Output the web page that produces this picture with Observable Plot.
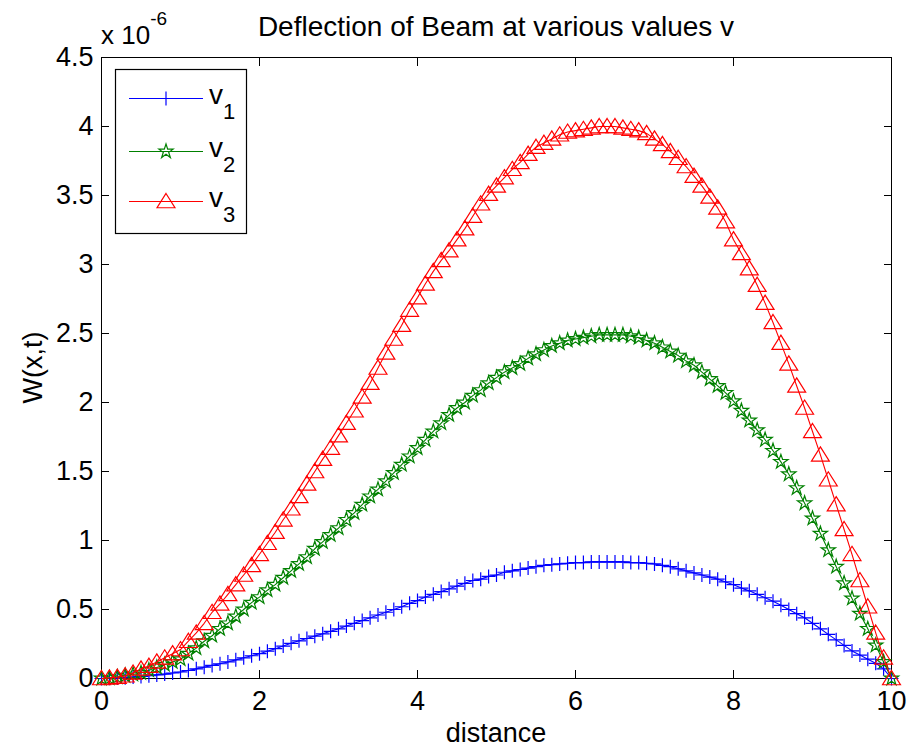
<!DOCTYPE html>
<html>
<head>
<meta charset="utf-8">
<script src="https://cdn.jsdelivr.net/npm/d3@7"></script>
<script src="https://cdn.jsdelivr.net/npm/@observablehq/plot@0.6"></script>
<style>
  html, body { margin: 0; padding: 0; background: #fff; }
  #chart { width: 908px; height: 750px; }
</style>
</head>
<body>
<div id="chart"></div>
<script>
// ---- data (W in units of 1e-6) ----
const distance = [0,0.1,0.2,0.3,0.4,0.5,0.6,0.7,0.8,0.9,1,1.1,1.2,1.3,1.4,1.5,1.6,1.7,1.8,1.9,2,2.1,2.2,2.3,2.4,2.5,2.6,2.7,2.8,2.9,3,3.1,3.2,3.3,3.4,3.5,3.6,3.7,3.8,3.9,4,4.1,4.2,4.3,4.4,4.5,4.6,4.7,4.8,4.9,5,5.1,5.2,5.3,5.4,5.5,5.6,5.7,5.8,5.9,6,6.1,6.2,6.3,6.4,6.5,6.6,6.7,6.8,6.9,7,7.1,7.2,7.3,7.4,7.5,7.6,7.7,7.8,7.9,8,8.1,8.2,8.3,8.4,8.5,8.6,8.7,8.8,8.9,9,9.1,9.2,9.3,9.4,9.5,9.6,9.7,9.8,9.9,10];

const v1 = [0,0.001,0.003,0.006,0.01,0.015,0.02,0.026,0.032,0.04,0.047,0.058,0.07,0.082,0.095,0.107,0.12,0.135,0.15,0.165,0.18,0.198,0.216,0.235,0.255,0.273,0.29,0.307,0.324,0.342,0.36,0.38,0.40,0.42,0.44,0.46,0.48,0.50,0.52,0.545,0.565,0.59,0.61,0.63,0.65,0.67,0.69,0.71,0.72,0.74,0.75,0.77,0.78,0.79,0.80,0.81,0.82,0.825,0.83,0.835,0.84,0.84,0.845,0.845,0.845,0.845,0.845,0.84,0.84,0.835,0.83,0.82,0.81,0.795,0.78,0.765,0.75,0.735,0.72,0.70,0.68,0.655,0.635,0.61,0.585,0.56,0.53,0.50,0.47,0.44,0.40,0.36,0.32,0.28,0.24,0.20,0.17,0.14,0.11,0.07,0];

const v2 = [0,0.003,0.01,0.02,0.03,0.04,0.06,0.08,0.10,0.12,0.14,0.18,0.22,0.27,0.31,0.36,0.40,0.45,0.50,0.55,0.59,0.64,0.68,0.73,0.78,0.83,0.88,0.94,0.99,1.04,1.09,1.15,1.20,1.26,1.32,1.37,1.43,1.49,1.55,1.61,1.67,1.73,1.79,1.85,1.91,1.96,2.00,2.05,2.09,2.14,2.18,2.22,2.25,2.28,2.32,2.35,2.38,2.41,2.43,2.45,2.46,2.47,2.48,2.49,2.49,2.49,2.49,2.48,2.47,2.45,2.43,2.40,2.37,2.34,2.30,2.27,2.22,2.17,2.12,2.07,2.01,1.94,1.87,1.80,1.73,1.65,1.57,1.48,1.38,1.27,1.16,1.05,0.93,0.81,0.69,0.58,0.47,0.36,0.24,0.12,0];

const v3 = [0,0.005,0.01,0.02,0.04,0.07,0.09,0.12,0.15,0.18,0.21,0.27,0.33,0.40,0.48,0.54,0.61,0.68,0.75,0.82,0.90,0.98,1.06,1.15,1.23,1.32,1.41,1.50,1.59,1.67,1.76,1.85,1.94,2.04,2.14,2.25,2.36,2.46,2.56,2.67,2.76,2.86,2.95,3.03,3.10,3.18,3.26,3.35,3.44,3.51,3.57,3.63,3.69,3.74,3.80,3.85,3.88,3.91,3.94,3.96,3.97,3.98,3.99,4.00,4.00,4.00,3.99,3.98,3.97,3.95,3.91,3.87,3.82,3.77,3.71,3.64,3.57,3.49,3.41,3.31,3.18,3.08,2.97,2.85,2.72,2.58,2.43,2.28,2.12,1.96,1.79,1.62,1.44,1.26,1.08,0.90,0.71,0.52,0.33,0.15,0];

const seriesNames = ["v1", "v2", "v3"];
const seriesSub = ["1", "2", "3"];
const seriesColors = ["#0000ff", "#008000", "#ff0000"];
const xTicks = [0, 2, 4, 6, 8, 10];
const yTicks = [0, 0.5, 1, 1.5, 2, 2.5, 3, 3.5, 4, 4.5];
const titleText = "Deflection of Beam at various values v";
const xLabel = "distance";
const yLabel = "W(x,t)";

// ---- marker symbols (MATLAB-like) ----
const plusSym = { draw(ctx, size) { const r = Math.sqrt(size / Math.PI);
  ctx.moveTo(-r, 0); ctx.lineTo(r, 0); ctx.moveTo(0, -r); ctx.lineTo(0, r); } };
const starSym = { draw(ctx, size) { const R = Math.sqrt(size / Math.PI), ri = R * 0.382;
  for (let i = 0; i < 10; i++) { const a = -Math.PI / 2 + i * Math.PI / 5, rr = i % 2 ? ri : R;
    const px = rr * Math.cos(a), py = rr * Math.sin(a); i ? ctx.lineTo(px, py) : ctx.moveTo(px, py); }
  ctx.closePath(); } };
const triSym = { draw(ctx, size) { const r = Math.sqrt(size / Math.PI);
  ctx.moveTo(0, -r); ctx.lineTo(r * 1.12, r * 0.78); ctx.lineTo(-r * 1.12, r * 0.78); ctx.closePath(); } };
const symbols = [plusSym, starSym, triSym];
const symR = [7, 7.5, 8];

const seriesValues = [v1, v2, v3];
const tables = seriesValues.map(vals => distance.map((x, i) => ({x, y: vals[i]})));

const FONT = "'Liberation Sans', Arial, Helvetica, sans-serif";

const marks = [
  Plot.frame({stroke: "black", strokeWidth: 1}),
  Plot.axisX({anchor: "bottom", ticks: xTicks, tickSize: 0, tickPadding: 12, tickFormat: d => String(d), fontSize: 27, fill: "black"}),
  Plot.axisX({anchor: "bottom", ticks: xTicks, tickSize: -8, tickFormat: () => "", stroke: "black"}),
  Plot.axisX({anchor: "top", ticks: xTicks, tickSize: -8, tickFormat: () => "", stroke: "black"}),
  Plot.axisY({anchor: "left", ticks: yTicks, tickSize: 0, tickPadding: 8, tickFormat: d => String(d), fontSize: 27, fill: "black"}),
  Plot.axisY({anchor: "left", ticks: yTicks, tickSize: -8, tickFormat: () => "", stroke: "black"}),
  Plot.axisY({anchor: "right", ticks: yTicks, tickSize: -8, tickFormat: () => "", stroke: "black"})
];
tables.forEach((t, k) => {
  marks.push(Plot.line(t, {x: "x", y: "y", stroke: seriesColors[k], strokeWidth: 1.1}));
  marks.push(Plot.dot(t, {x: "x", y: "y", symbol: symbols[k], r: symR[k], stroke: seriesColors[k], fill: "none", strokeWidth: 1.2}));
});

const svg = Plot.plot({
  width: 908,
  height: 750,
  marginLeft: 101,
  marginRight: 17,
  marginTop: 57,
  marginBottom: 72,
  style: {fontFamily: FONT, background: "white", color: "black", overflow: "visible"},
  x: {domain: [0, 10], label: null},
  y: {domain: [0, 4.5], label: null},
  marks
});
document.getElementById("chart").appendChild(svg);

// ---- annotations: title, labels, exponent, legend ----
const s = d3.select(svg);
s.append("text").attr("x", 496).attr("y", 36).attr("text-anchor", "middle")
  .attr("font-size", 28).attr("fill", "black").attr("font-family", FONT).text(titleText);
s.append("text").attr("x", 496).attr("y", 742).attr("text-anchor", "middle")
  .attr("font-size", 27).attr("fill", "black").attr("font-family", FONT).text(xLabel);
s.append("text").attr("transform", "translate(42,367.5) rotate(-90)").attr("text-anchor", "middle")
  .attr("font-size", 27).attr("fill", "black").attr("font-family", FONT).text(yLabel);
const ex = s.append("text").attr("x", 101).attr("y", 44).attr("text-anchor", "start")
  .attr("font-size", 26).attr("fill", "black").attr("font-family", FONT);
ex.append("tspan").text("x 10");
ex.append("tspan").attr("font-size", 19).attr("dy", -19).text("-6");

const lg = s.append("g");
lg.append("rect").attr("x", 115.5).attr("y", 69.5).attr("width", 131).attr("height", 164)
  .attr("fill", "white").attr("stroke", "black").attr("stroke-width", 1.2);
const rowY = [98.5, 151.5, 201.5];
seriesNames.forEach((n, k) => {
  lg.append("line").attr("x1", 129).attr("x2", 203).attr("y1", rowY[k]).attr("y2", rowY[k])
    .attr("stroke", seriesColors[k]).attr("stroke-width", 1.1);
  lg.append("path").attr("transform", `translate(166,${rowY[k]})`)
    .attr("d", d3.symbol(symbols[k], Math.PI * symR[k] * symR[k])())
    .attr("fill", "none").attr("stroke", seriesColors[k]).attr("stroke-width", 1.2);
  const t = lg.append("text").attr("x", 209).attr("y", rowY[k] + 5).attr("text-anchor", "start")
    .attr("font-size", 28).attr("fill", "black").attr("font-family", FONT);
  t.append("tspan").text("v");
  t.append("tspan").attr("font-size", 22).attr("dy", 15).text(seriesSub[k]);
});
</script>
</body>
</html>
